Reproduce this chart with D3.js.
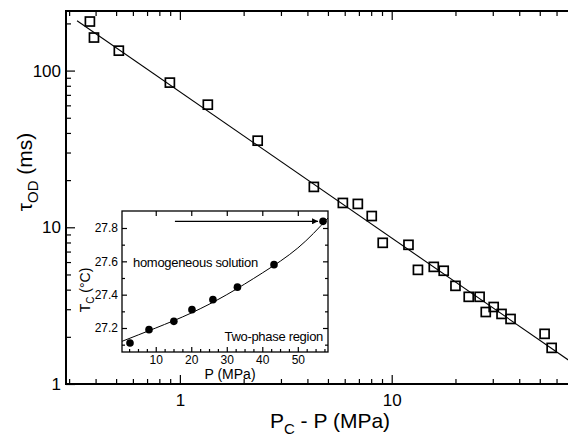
<!DOCTYPE html>
<html>
<head>
<meta charset="utf-8">
<script src="https://cdn.jsdelivr.net/npm/d3@7"></script>
<style>
  body { margin: 0; background: #fff; }
  svg { display: block; font-family: "Liberation Sans", Arial, sans-serif; }
</style>
</head>
<body>
<svg id="chart" width="568" height="439"></svg>
<script>
// main panel: relaxation time vs distance from critical pressure
const pcMinusP = [0.376, 0.393, 0.515, 0.897, 1.355, 2.33, 4.29, 5.88, 6.92, 8.05, 9.07, 12.0, 13.3, 15.8, 17.6, 20.0, 23.1, 26.0, 27.8, 30.3, 33.0, 36.4, 52.7, 56.9];
const tauOD    = [205.6, 162.5, 134, 83.8, 60.6, 35.7, 18.1, 14.3, 14.1, 11.8, 7.96, 7.73, 5.35, 5.59, 5.28, 4.23, 3.60, 3.60, 2.88, 3.10, 2.80, 2.60, 2.09, 1.70];
// power-law fit line end points
const fitX = [0.327, 68.4];
const fitY = [208, 1.42];
const xMajorTicks = [1, 10];
const yMajorTicks = [1, 10, 100];

// inset: critical temperature vs pressure
const insetP = [2.75, 8.1, 15.1, 20.2, 26.1, 33.0, 43.3, 57.1];
const insetT = [27.11, 27.19, 27.24, 27.31, 27.37, 27.445, 27.58, 27.84];
const curveP = [0.5, 10, 20, 30, 40, 50, 58.5];
const curveT = [27.12, 27.20, 27.29, 27.40, 27.53, 27.68, 27.86];
const arrowP = [15.4, 55.7];
const arrowT = [27.84, 27.84];
const insetXTicks = [10, 20, 30, 40, 50];
const insetYTicks = [27.2, 27.4, 27.6, 27.8];

const svg = d3.select("#chart");

// ---- main panel ----
const m = { left: 66, right: 583, top: 11, bottom: 384 };
const x = d3.scaleLog().domain([0.29, 80]).range([m.left, m.right]);
const y = d3.scaleLog().domain([1, 240]).range([m.bottom, m.top]);

const xMinor = x.ticks().filter(d => xMajorTicks.indexOf(d) < 0);
const yMinor = y.ticks().filter(d => yMajorTicks.indexOf(d) < 0);

function addAxis(axis, tf) {
    const g = svg.append("g").attr("transform", tf).call(axis);
    g.select(".domain").remove();
    g.selectAll(".tick line").attr("stroke", "#000").attr("stroke-width", 1.5);
    return g;
}

// bottom
addAxis(d3.axisBottom(x).tickValues(xMajorTicks).tickSize(-9).tickPadding(10).tickFormat(d3.format("d")),
        "translate(0," + m.bottom + ")")
    .selectAll("text").attr("font-size", 17).attr("fill", "#000");
addAxis(d3.axisBottom(x).tickValues(xMinor).tickSize(-5).tickFormat(""), "translate(0," + m.bottom + ")");
// top mirrored
addAxis(d3.axisTop(x).tickValues(xMajorTicks).tickSize(-9).tickFormat(""), "translate(0," + m.top + ")");
addAxis(d3.axisTop(x).tickValues(xMinor).tickSize(-5).tickFormat(""), "translate(0," + m.top + ")");
// left
addAxis(d3.axisLeft(y).tickValues(yMajorTicks).tickSize(-9).tickPadding(5).tickFormat(d3.format("d")),
        "translate(" + m.left + ",0)")
    .selectAll("text").attr("font-size", 17).attr("fill", "#000");
addAxis(d3.axisLeft(y).tickValues(yMinor).tickSize(-5).tickFormat(""), "translate(" + m.left + ",0)");

// frame
svg.append("path")
    .attr("d", "M" + m.right + "," + m.top + "H" + m.left + "V" + m.bottom + "H" + m.right)
    .attr("fill", "none").attr("stroke", "#000").attr("stroke-width", 2);

// fit line
svg.append("path")
    .datum(d3.zip(fitX, fitY))
    .attr("fill", "none").attr("stroke", "#000").attr("stroke-width", 1.1)
    .attr("d", d3.line().x(d => x(d[0])).y(d => y(d[1])));

// square markers
const sq = 9;
svg.append("g").selectAll("rect")
    .data(d3.zip(pcMinusP, tauOD))
    .enter()
    .append("rect")
    .attr("x", d => x(d[0]) - sq / 2)
    .attr("y", d => y(d[1]) - sq / 2)
    .attr("width", sq).attr("height", sq)
    .attr("fill", "none").attr("stroke", "#000").attr("stroke-width", 1.7);

// axis titles
const xt = svg.append("text").attr("x", 330).attr("y", 428)
    .attr("text-anchor", "middle").attr("font-size", 21).attr("fill", "#000");
xt.append("tspan").text("P");
xt.append("tspan").attr("font-size", 15).attr("dy", 6).text("C");
xt.append("tspan").attr("dy", -6).text(" - P  (MPa)");

const yt = svg.append("text").attr("transform", "translate(32,172) rotate(-90)")
    .attr("text-anchor", "middle").attr("font-size", 21).attr("fill", "#000");
yt.append("tspan").text("τ");
yt.append("tspan").attr("font-size", 15).attr("dy", 6).text("OD");
yt.append("tspan").attr("dy", -6).text("  (ms)");

// ---- inset ----
const n = { left: 122, right: 328, top: 211, bottom: 352 };
const ix = d3.scaleLinear().domain([0.5, 58.5]).range([n.left, n.right]);
const iy = d3.scaleLinear().domain([27.056, 27.902]).range([n.bottom, n.top]);

svg.append("rect")
    .attr("x", n.left).attr("y", n.top)
    .attr("width", n.right - n.left).attr("height", n.bottom - n.top)
    .attr("fill", "#fff").attr("stroke", "#000").attr("stroke-width", 1.3);

const ixMinor = d3.range(2.5, 58.5, 2.5).filter(d => d % 10 !== 0);
const iyMinor = d3.range(27.1, 27.9, 0.1).filter(d => insetYTicks.every(t => Math.abs(t - d) > 1e-6));

addAxis(d3.axisBottom(ix).tickValues(insetXTicks).tickSize(-5).tickPadding(3), "translate(0," + n.bottom + ")")
    .selectAll("text").attr("font-size", 12).attr("fill", "#000");
addAxis(d3.axisBottom(ix).tickValues(ixMinor).tickSize(-3).tickFormat(""), "translate(0," + n.bottom + ")");
addAxis(d3.axisTop(ix).tickValues(insetXTicks).tickSize(-5).tickFormat(""), "translate(0," + n.top + ")");
addAxis(d3.axisLeft(iy).tickValues(insetYTicks).tickSize(-5).tickPadding(4).tickFormat(d3.format(".1f")),
        "translate(" + n.left + ",0)")
    .selectAll("text").attr("font-size", 12).attr("fill", "#000");
addAxis(d3.axisLeft(iy).tickValues(iyMinor).tickSize(-3).tickFormat(""), "translate(" + n.left + ",0)");
addAxis(d3.axisRight(iy).tickValues(insetYTicks).tickSize(-5).tickFormat(""), "translate(" + n.right + ",0)");
addAxis(d3.axisRight(iy).tickValues(iyMinor).tickSize(-3).tickFormat(""), "translate(" + n.right + ",0)");
svg.selectAll(".tick line").attr("stroke-width", 1.2);

// fit curve
svg.append("path")
    .datum(d3.zip(curveP, curveT))
    .attr("fill", "none").attr("stroke", "#000").attr("stroke-width", 1)
    .attr("d", d3.line().curve(d3.curveNatural).x(d => ix(d[0])).y(d => iy(d[1])));

svg.append("g").selectAll("circle")
    .data(d3.zip(insetP, insetT))
    .enter()
    .append("circle")
    .attr("cx", d => ix(d[0])).attr("cy", d => iy(d[1]))
    .attr("r", 3.8).attr("fill", "#000");

// arrow
svg.append("defs").append("marker")
    .attr("id", "ah").attr("viewBox", "0 0 10 10")
    .attr("refX", 10).attr("refY", 5)
    .attr("markerWidth", 9).attr("markerHeight", 6)
    .attr("markerUnits", "userSpaceOnUse").attr("orient", "auto")
    .append("path").attr("d", "M0,0L10,5L0,10z").attr("fill", "#000");

svg.append("path")
    .datum(d3.zip(arrowP, arrowT))
    .attr("stroke", "#000").attr("stroke-width", 1.3)
    .attr("marker-end", "url(#ah)")
    .attr("d", d3.line().x(d => ix(d[0])).y(d => iy(d[1])));

svg.append("text").attr("x", 133).attr("y", 267)
    .attr("font-size", 13).attr("fill", "#000").attr("letter-spacing", -0.3)
    .text("homogeneous solution");
svg.append("text").attr("x", 323).attr("y", 341)
    .attr("text-anchor", "end").attr("font-size", 13).attr("fill", "#000").attr("letter-spacing", -0.3)
    .text("Two-phase region");

const ixt = svg.append("text").attr("x", 230).attr("y", 379)
    .attr("text-anchor", "middle").attr("font-size", 14).attr("fill", "#000");
ixt.append("tspan").text("P  (MPa)");

const iyt = svg.append("text").attr("transform", "translate(90,290) rotate(-90)")
    .attr("text-anchor", "middle").attr("font-size", 14).attr("fill", "#000");
iyt.append("tspan").text("T");
iyt.append("tspan").attr("font-size", 10).attr("dy", 4).text("C");
iyt.append("tspan").attr("dy", -4).text("  (°C)");
</script>
</body>
</html>
